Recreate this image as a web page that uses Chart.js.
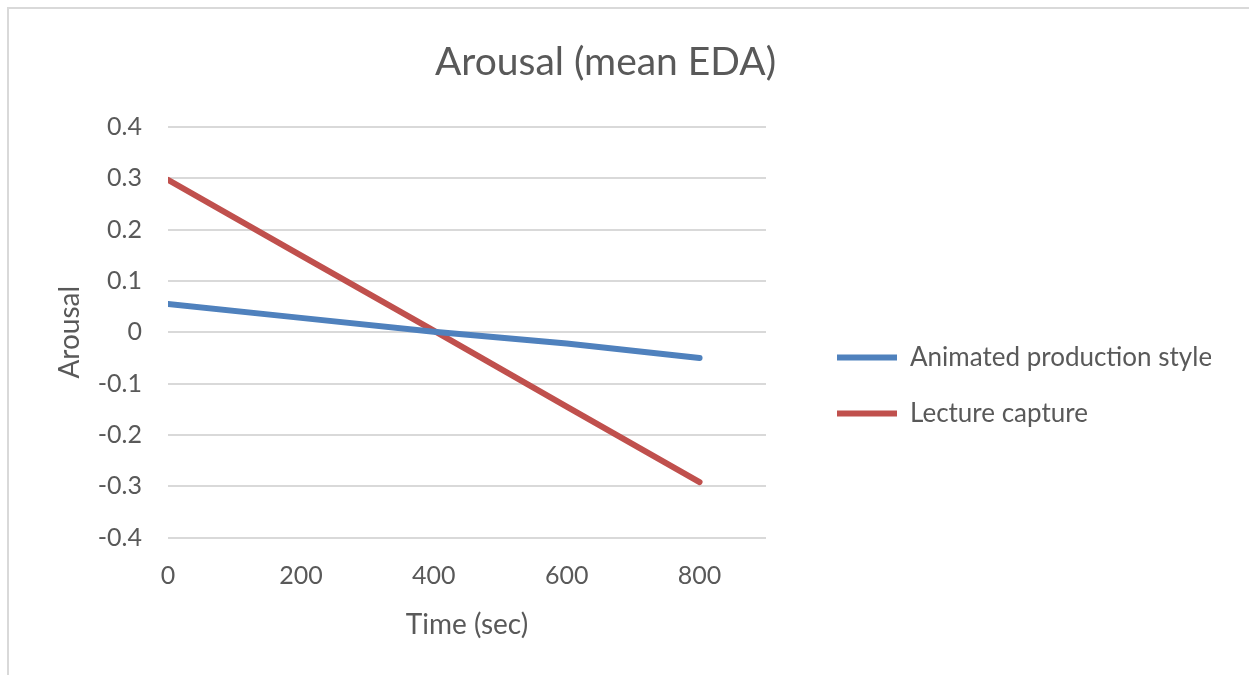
<!DOCTYPE html>
<html>
<head>
<meta charset="utf-8">
<script src="https://cdn.jsdelivr.net/npm/chart.js@4/dist/chart.umd.min.js"></script>
<style>
  html, body { margin: 0; padding: 0; background: #fff; overflow: hidden; }
  #frame { position: absolute; left: 7px; top: 7px; width: 1300px; height: 700px; border: 2px solid #d9d9d9; }
  #wrap { position: absolute; left: 0; top: 0; width: 1249px; height: 675px; }
</style>
</head>
<body>
<div id="frame"></div>
<div id="wrap"><canvas id="chart" width="1249" height="675"></canvas></div>
<script>
const chartTitle = 'Arousal (mean EDA)';
const seriesNames = ['Animated production style', 'Lecture capture'];
const timeSec = [0, 200, 400, 600, 800];
const animatedStyle = [0.055, 0.028, 0.001, -0.022, -0.05];
const lectureCapture = [0.297, 0.15, 0.003, -0.145, -0.292];
const xTicks = [0, 200, 400, 600, 800];
const yTicks = [-0.4, -0.3, -0.2, -0.1, 0, 0.1, 0.2, 0.3, 0.4];

const textColor = '#595959';
const fontFamily = 'Lato, "Open Sans", sans-serif';

const toPoints = (ys) => timeSec.map((x, i) => ({ x: x, y: ys[i] }));

document.addEventListener('DOMContentLoaded', () => {
    const ctx = document.getElementById('chart').getContext('2d');

    new Chart(ctx, {
        type: 'line',
        data: {
            datasets: [{
                label: seriesNames[0],
                data: toPoints(animatedStyle),
                borderColor: '#4f81bd',
                backgroundColor: '#4f81bd',
                borderWidth: 6,
                borderCapStyle: 'round',
                pointRadius: 0,
                tension: 0
            }, {
                label: seriesNames[1],
                data: toPoints(lectureCapture),
                borderColor: '#c0504d',
                backgroundColor: '#c0504d',
                borderWidth: 6,
                borderCapStyle: 'round',
                pointRadius: 0,
                tension: 0
            }]
        },
        options: {
            responsive: false,
            animation: false,
            devicePixelRatio: 1,
            layout: { padding: { left: 0, top: 0, bottom: 0, right: 38 } },
            plugins: {
                tooltip: { enabled: false },
                title: {
                    display: true,
                    text: chartTitle,
                    color: textColor,
                    font: { family: fontFamily, size: 39, weight: 'normal' },
                    padding: { top: 38.6, bottom: 41.6 }
                },
                legend: {
                    position: 'right',
                    align: 'center',
                    maxWidth: 404,
                    // blank title only pushes the entries down
                    title: {
                        display: true,
                        text: ' ',
                        color: 'rgba(0,0,0,0)',
                        font: { size: 10 },
                        padding: 42
                    },
                    labels: {
                        usePointStyle: true,
                        pointStyle: 'line',
                        pointStyleWidth: 60,
                        padding: 30,
                        color: textColor,
                        font: { family: fontFamily, size: 26 }
                    }
                }
            },
            scales: {
                x: {
                    type: 'linear',
                    min: 0,
                    max: 900,
                    afterBuildTicks: (scale) => {
                        scale.ticks = xTicks.map(v => ({ value: v }));
                    },
                    afterFit: (scale) => { scale.height = 137.5; },
                    grid: { display: false, drawTicks: false },
                    border: { display: false },
                    ticks: {
                        color: textColor,
                        padding: 23.5,
                        font: { family: fontFamily, size: 25 }
                    },
                    title: {
                        display: true,
                        text: 'Time (sec)',
                        color: textColor,
                        font: { family: fontFamily, size: 28 },
                        padding: { top: 0, bottom: 33.2 }
                    }
                },
                y: {
                    type: 'linear',
                    min: -0.4,
                    max: 0.4,
                    afterBuildTicks: (scale) => {
                        scale.ticks = yTicks.map(v => ({ value: v }));
                    },
                    afterFit: (scale) => { scale.width = 168; },
                    grid: { color: '#d9d9d9', lineWidth: 2, drawTicks: false },
                    border: { display: false },
                    ticks: {
                        color: textColor,
                        padding: 26,
                        font: { family: fontFamily, size: 25 },
                        callback: (v) => String(Math.round(v * 10) / 10)
                    },
                    title: {
                        display: true,
                        text: 'Arousal',
                        color: textColor,
                        font: { family: fontFamily, size: 28 },
                        padding: { top: 53.2, bottom: 0 }
                    }
                },
                legendGap: {
                    type: 'linear',
                    position: 'right',
                    display: true,
                    afterFit: (scale) => { scale.width = 41; },
                    grid: { display: false, drawTicks: false },
                    border: { display: false },
                    ticks: { display: false }
                }
            }
        }
    });
});
</script>
</body>
</html>
